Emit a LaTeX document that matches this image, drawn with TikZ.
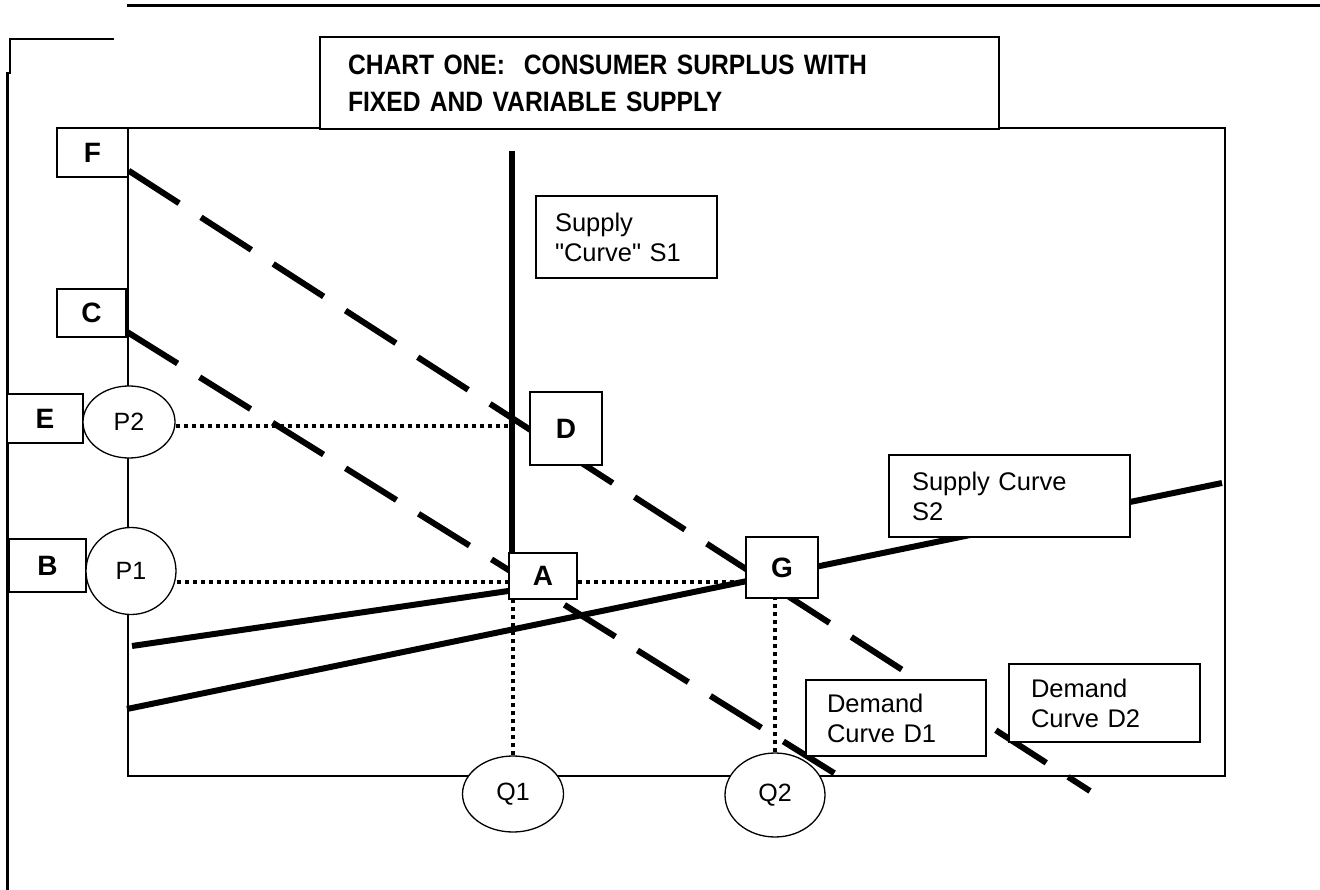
\documentclass[tikz,border=0pt]{standalone}
\usepackage{fontspec}
\setmainfont{Liberation Sans}
\newfontfamily\titlefont[FakeStretch=0.88]{Liberation Sans}
\newfontfamily\labelfont[Ligatures=ResetAll]{Liberation Sans}
\usetikzlibrary{shapes.geometric}
\pgfdeclarelayer{background}
\pgfsetlayers{background,main}

\begin{document}
\begin{tikzpicture}[x=1pt,y=-1pt,
   box/.style={draw,fill=white,line width=1.4pt,inner sep=0pt},
   letterbox/.style={box,font=\fontsize{28}{30}\selectfont\bfseries},
   labelbox/.style={box,align=left,font=\labelfont\fontsize{25.5}{30}\selectfont},
   pricetag/.style={draw,ellipse,fill=white,line width=1.3pt,inner sep=0pt,
      font=\fontsize{25}{28}\selectfont},
   supplyline/.style={line width=6pt},
   demandline/.style={line width=6pt,dash pattern=on 60pt off 26pt},
   guide/.style={line width=3.5pt,dash pattern=on 4.5pt off 3.5pt}]
\useasboundingbox (0,0) rectangle (1320,890);

% title
\node[box,align=left,font=\titlefont\fontsize{28}{37}\selectfont\bfseries,
   minimum width=679pt,minimum height=92pt,text width=623pt,inner xsep=28pt]
   (title) at (659.5,83) {CHART ONE:\ \ CONSUMER SURPLUS WITH\\FIXED AND VARIABLE SUPPLY};

% letters
\node[letterbox,minimum width=71pt,minimum height=49pt] (F) at (92.5,152.5) {F};
\node[letterbox,minimum width=69pt,minimum height=48pt] (C) at (91.5,313) {C};
\node[letterbox,minimum width=76pt,minimum height=49pt] (E) at (45,418.5) {E};
\node[letterbox,minimum width=77pt,minimum height=53pt] (B) at (47.5,565.5) {B};
\node[letterbox,minimum width=72pt,minimum height=73pt] (D) at (566,428.5) {D};
\node[letterbox,minimum width=68pt,minimum height=46pt] (A) at (543,576) {A};
\node[letterbox,minimum width=72pt,minimum height=61pt] (G) at (782,567.5) {G};

% prices and quantities
\node[pricetag,minimum width=92pt,minimum height=72pt] (P2) at (129,422) {P2};
\node[pricetag,minimum width=90pt,minimum height=87pt] (P1) at (131,571) {P1};
\node[pricetag,minimum width=101pt,minimum height=76pt] (Q1) at (513,794) {Q1};
\node[pricetag,minimum width=100pt,minimum height=84pt] (Q2) at (775,795) {Q2};

% curve labels
\node[labelbox,minimum width=181pt,minimum height=82pt,text width=143pt,inner xsep=19pt]
   (S1lbl) at (626.5,237) {Supply\\"Curve" S1};
\node[labelbox,minimum width=241pt,minimum height=82pt,text width=195pt,inner xsep=23pt]
   (S2lbl) at (1009.5,496) {Supply Curve\\S2};
\node[labelbox,minimum width=180pt,minimum height=76pt,text width=138pt,inner xsep=21pt]
   (D1lbl) at (896,718) {Demand\\Curve D1};
\node[labelbox,minimum width=191pt,minimum height=78pt,text width=147pt,inner xsep=22pt]
   (D2lbl) at (1104.5,703) {Demand\\Curve D2};

\coordinate (S1top) at (512,151);
\coordinate (SAleft) at (132,646);
\coordinate (S2left) at (127,709);
\coordinate (S2right) at (1222,483);
\coordinate (D1end) at (850,783);
\coordinate (D2end) at (1090,791);
\coordinate (lowprice) at (0,582);
\coordinate (highprice) at (0,426);

\begin{pgfonlayer}{background}
% page rules and axes
\draw[line width=3pt] (127,6) -- (1320,6);
\draw[line width=2.5pt] (114,39) -- (10,39) -- (10,74);
\draw[line width=3pt] (7,72) -- (7,890);
\draw[line width=1.5pt] (128,128) rectangle (1225,776);
% demand curves
\draw[demandline] ([yshift=7pt]F.south east) -- (D2end);
\draw[demandline] ([yshift=6pt]C.south east) -- (D1end);
% supply curves
\draw[supplyline] (S1top) -- (S1top |- A.north);
\draw[supplyline] (SAleft) -- ([yshift=-15pt]A.west);
\draw[supplyline] (S2left) -- (S2right);
% guides
\draw[guide] (P2.east |- highprice) -- (S1top |- highprice);
\draw[guide] (P1.east |- lowprice) -- (A.west |- lowprice);
\draw[guide] (A.east |- lowprice) -- (G.west |- lowprice);
\draw[guide] (Q1.north) -- (Q1.north |- A.south);
\draw[guide] (Q2.north) -- (Q2.north |- G.south);
\end{pgfonlayer}
\end{tikzpicture}
\end{document}
